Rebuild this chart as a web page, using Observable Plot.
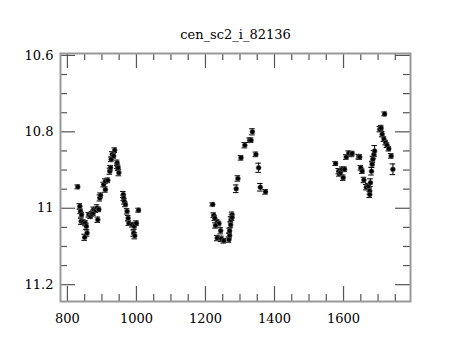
<!DOCTYPE html>
<html>
<head>
<meta charset="utf-8">
<script src="https://cdn.jsdelivr.net/npm/d3@7"></script>
<script src="https://cdn.jsdelivr.net/npm/@observablehq/plot@0.6"></script>
<style>
  html, body { margin: 0; padding: 0; background: white; }
</style>
</head>
<body>
<div id="chart"></div>
<script>
const title = "cen_sc2_i_82136";

const jd = [
  830, 836, 838, 841, 840, 846, 852, 855, 857, 850, 862, 867, 871, 875, 876, 882, 886, 888, 891, 894,
  896, 905, 910, 910, 917, 923, 925, 927, 930, 934, 937, 944, 945, 947, 949, 962, 963, 965, 968, 973,
  976, 978, 988, 994, 992, 995, 1000, 1006,
  1221, 1224, 1227, 1234, 1239, 1229, 1244, 1234, 1246, 1253, 1268, 1270, 1270, 1273, 1274, 1277, 1277,
  1289, 1294, 1303, 1314, 1328, 1332, 1336, 1346, 1354, 1359, 1374,
  1577, 1586, 1588, 1591, 1596, 1599, 1603, 1608, 1615, 1623, 1625, 1644, 1647, 1650, 1654, 1659, 1666,
  1672, 1676, 1676, 1678, 1681, 1683, 1685, 1688, 1690, 1705, 1709, 1712, 1717, 1719, 1722, 1726, 1731,
  1738, 1743
];
const mag = [
  10.944, 10.995, 11.008, 11.017, 11.034, 11.036, 11.039, 11.047, 11.065, 11.076, 11.017, 11.021, 11.015, 11.012, 11.003, 11.005, 10.999, 11.030, 11.003, 10.973,
  10.966, 10.938, 10.951, 10.929, 10.927, 10.903, 10.894, 10.872, 10.859, 10.863, 10.848, 10.881, 10.890, 10.894, 10.907, 10.964, 10.973, 10.982, 10.990, 11.008,
  11.026, 11.039, 11.043, 11.047, 11.065, 11.072, 11.039, 11.005,
  10.990, 11.018, 11.026, 11.036, 11.040, 11.045, 11.059, 11.078, 11.080, 11.085, 11.082, 11.071, 11.059, 11.043, 11.030, 11.017, 11.024,
  10.949, 10.922, 10.868, 10.835, 10.822, 10.822, 10.800, 10.859, 10.894, 10.945, 10.957,
  10.883, 10.903, 10.910, 10.907, 10.898, 10.920, 10.898, 10.866, 10.856, 10.859, 10.857, 10.865, 10.866, 10.894, 10.903, 10.926, 10.945,
  10.942, 10.955, 10.964, 10.933, 10.903, 10.885, 10.872, 10.859, 10.850, 10.793, 10.790, 10.806, 10.819, 10.753, 10.828, 10.835, 10.844,
  10.863, 10.898
];
const err = [
  0.005, 0.007, 0.006, 0.006, 0.008, 0.006, 0.007, 0.008, 0.008, 0.008, 0.006, 0.006, 0.006, 0.007, 0.006, 0.006, 0.008, 0.007, 0.006, 0.008,
  0.006, 0.006, 0.007, 0.006, 0.006, 0.008, 0.006, 0.006, 0.007, 0.006, 0.006, 0.007, 0.006, 0.007, 0.008, 0.008, 0.007, 0.007, 0.006, 0.007,
  0.007, 0.006, 0.006, 0.008, 0.008, 0.008, 0.006, 0.005,
  0.004, 0.006, 0.006, 0.006, 0.006, 0.007, 0.008, 0.007, 0.007, 0.006, 0.007, 0.007, 0.007, 0.008, 0.008, 0.007, 0.008,
  0.010, 0.007, 0.006, 0.007, 0.006, 0.006, 0.008, 0.006, 0.012, 0.010, 0.006,
  0.005, 0.007, 0.006, 0.007, 0.006, 0.007, 0.006, 0.006, 0.006, 0.006, 0.006, 0.006, 0.006, 0.006, 0.006, 0.007, 0.007,
  0.007, 0.008, 0.008, 0.010, 0.010, 0.008, 0.008, 0.010, 0.014, 0.007, 0.007, 0.007, 0.006, 0.005, 0.006, 0.006, 0.006,
  0.006, 0.014
];

const xMajor = [800, 1000, 1200, 1400, 1600];
const xMinor = d3.range(850, 1751, 50).filter(v => !xMajor.includes(v));
const yMajor = [10.6, 10.8, 11, 11.2];
const yMinor = [10.65, 10.7, 10.75, 10.85, 10.9, 10.95, 11.05, 11.1, 11.15];

const data = jd.map((x, i) => ({x, y: mag[i], e: err[i]}));

const W = 460, H = 340, mL = 60, mR = 50, mT = 53, mB = 39;
const iw = W - mL - mR, ih = H - mT - mB;
const major = 15, minor = 7;
const tickColor = "#555";
const capHalf = 8;

const chart = Plot.plot({
  width: W, height: H,
  marginLeft: mL, marginRight: mR, marginTop: mT, marginBottom: mB,
  style: {fontFamily: "'DejaVu Serif', serif", fontSize: "13px", background: "white", color: "black"},
  x: {domain: [780, 1794], label: null},
  y: {domain: [10.595, 11.244], reverse: true, label: null},
  marks: [
    Plot.tickX(xMajor, {x: d => d, insetTop: ih - major, stroke: tickColor, strokeWidth: 1.2}),
    Plot.tickX(xMajor, {x: d => d, insetBottom: ih - major, stroke: tickColor, strokeWidth: 1.2}),
    Plot.tickX(xMinor, {x: d => d, insetTop: ih - minor, stroke: tickColor, strokeWidth: 1.2}),
    Plot.tickX(xMinor, {x: d => d, insetBottom: ih - minor, stroke: tickColor, strokeWidth: 1.2}),
    Plot.tickY(yMajor, {y: d => d, insetRight: iw - major, stroke: tickColor, strokeWidth: 1.2}),
    Plot.tickY(yMajor, {y: d => d, insetLeft: iw - major, stroke: tickColor, strokeWidth: 1.2}),
    Plot.tickY(yMinor, {y: d => d, insetRight: iw - minor, stroke: tickColor, strokeWidth: 1.2}),
    Plot.tickY(yMinor, {y: d => d, insetLeft: iw - minor, stroke: tickColor, strokeWidth: 1.2}),
    Plot.frame({stroke: "#999", strokeWidth: 2}),
    Plot.axisX({ticks: xMajor, tickSize: 0, tickPadding: 12, tickFormat: d => String(d), fill: "black"}),
    Plot.axisY({ticks: yMajor, tickSize: 0, tickPadding: 7, tickFormat: d => String(d), fill: "black"}),
    Plot.ruleX(data, {x: "x", y1: d => d.y - d.e, y2: d => d.y + d.e, stroke: "black", strokeWidth: 1}),
    Plot.ruleY(data, {y: d => d.y - d.e, x1: d => d.x - capHalf, x2: d => d.x + capHalf, stroke: "black", strokeWidth: 1}),
    Plot.ruleY(data, {y: d => d.y + d.e, x1: d => d.x - capHalf, x2: d => d.x + capHalf, stroke: "black", strokeWidth: 1}),
    Plot.dot(data, {x: "x", y: "y", r: 2.5, fill: "black", stroke: "#777", strokeWidth: 0.5}),
    Plot.text([title], {text: d => d, frameAnchor: "top", dy: -24, fontSize: 13, fill: "black"})
  ]
});
document.getElementById("chart").appendChild(chart);
</script>
</body>
</html>
